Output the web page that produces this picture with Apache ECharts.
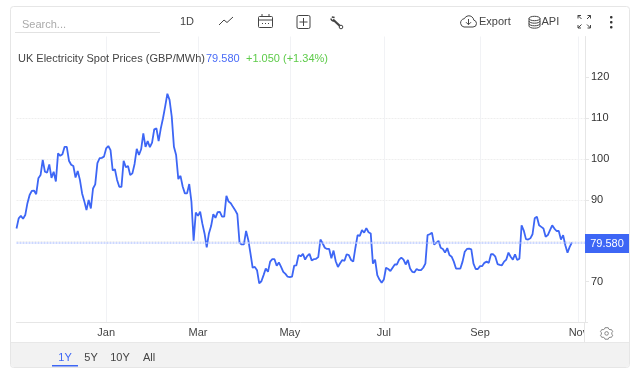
<!DOCTYPE html>
<html>
<head>
<meta charset="utf-8">
<style>
  html, body { margin: 0; padding: 0; background: #fff; }
  #main { width: 640px; height: 377px; }
</style>
<script src="https://cdn.jsdelivr.net/npm/echarts@6/dist/echarts.min.js"></script>
</head>
<body>
<div id="main"></div>
<script>
// one value per trading day
var prices = [
  83.0,85.5,86.1,85.4,86.3,89.2,91.2,92.2,92.3,91.4,
  95.3,96.1,99.8,96.9,96.7,98.7,95.4,96.9,94.5,101.4,
  100.8,101.2,103.0,103.0,99.6,98.6,98.3,95.5,97.1,94.9,
  91.6,89.7,87.5,90.0,87.9,92.8,93.8,99.0,100.2,100.3,
  100.6,102.6,103.2,102.2,97.2,97.5,94.9,93.2,93.2,99.6,
  98.0,98.3,96.1,96.5,98.8,102.5,101.0,102.4,106.3,103.0,
  104.4,102.9,104.0,107.3,107.5,104.4,107.5,110.0,112.9,116.0,
  114.5,110.4,103.0,101.0,95.1,95.9,93.3,91.6,91.6,93.9,
  89.6,80.0,86.9,86.1,87.1,84.2,81.8,78.4,81.8,83.6,
  86.5,85.6,87.0,87.1,85.9,85.9,91.0,89.6,89.2,88.3,
  87.5,86.5,79.5,79.1,79.1,82.4,80.2,76.9,73.4,73.6,
  72.8,69.6,70.1,71.6,73.2,72.4,74.9,75.5,75.5,73.9,
  74.7,73.6,72.4,71.9,71.2,71.1,71.2,73.9,74.0,76.5,
  76.2,76.8,75.4,76.3,76.8,75.2,75.5,75.6,76.0,80.3,
  79.4,78.3,78.0,78.0,75.7,77.6,75.0,73.6,74.5,75.3,
  75.1,76.7,76.5,75.3,74.9,78.3,81.4,81.2,82.6,82.0,
  83.1,82.1,81.8,74.4,75.4,71.6,70.5,69.7,70.5,73.4,
  73.1,72.6,73.4,74.2,74.2,75.4,75.9,75.4,74.2,75.3,
  73.2,72.4,72.3,73.1,72.8,72.8,73.4,74.4,81.4,81.6,
  82.0,79.1,79.5,80.0,78.3,78.0,77.1,78.2,76.5,76.1,
  74.9,73.2,73.2,73.2,74.9,77.3,78.0,78.1,77.9,74.4,
  73.1,73.1,73.8,73.8,74.6,74.9,74.6,76.7,76.7,76.1,
  74.3,74.1,74.0,74.9,75.4,77.1,76.1,75.4,76.7,75.3,
  75.6,83.8,82.5,80.4,80.3,80.6,81.6,85.5,85.9,83.8,
  83.4,83.0,81.0,81.4,82.6,83.8,83.0,82.4,82.4,80.3,
  81.4,78.9,77.1,78.5,79.58
]
var monthNames = ['Jan', 'Mar', 'May', 'Jul', 'Sep', 'Nov']
var monthSlots = [41, 83, 125, 168, 212, 257]
var yTicks = [70, 80, 90, 100, 110, 120]
var ranges = ['1Y', '5Y', '10Y', 'All']
var lastPrice = 79.58

var slotCount = 261
var categories = []
for (var i = 0; i < slotCount; i++) {
  var m = monthSlots.indexOf(i)
  categories.push(m >= 0 ? monthNames[m] : '')
}

var FONT = '"Liberation Sans", Arial, sans-serif'
var BLUE = '#3d66f5'
var INK = '#444'

function label(text, x, y, size, color, align) {
  return { type: 'text', z: 50, silent: true, x: x, y: y, style: {
    text: text, fontFamily: FONT, fontSize: size, fill: color,
    align: align || 'left', verticalAlign: 'middle'
  } }
}
function box(x, y, w, h, fill, z, r) {
  return { type: 'rect', z: z, silent: true, shape: { x: x, y: y, width: w, height: h, r: r || 0 },
    style: { fill: fill, stroke: null } }
}
function line(points, color, width) {
  return { type: 'polyline', z: 50, silent: true, shape: { points: points },
    style: { stroke: color, lineWidth: width || 1, fill: null } }
}
// the graphic component has no plain path type, so each icon becomes a registered shape
var iconCount = 0
function icon(d, color, width, fill) {
  var name = 'toolIcon' + (iconCount++)
  echarts.graphic.registerShape(name, echarts.graphic.extendPath(d, {}))
  return { type: name, z: 50, silent: true,
    style: { stroke: color, lineWidth: width || 1, fill: fill || 'none' } }
}

var furniture = [
  // card and footer
  { type: 'rect', z: -5, silent: true, shape: { x: 10.5, y: 6.5, width: 619, height: 361, r: 3 },
    style: { fill: '#fff', stroke: '#e6e6e6', lineWidth: 1 } },
  { type: 'rect', z: 40, silent: true, shape: { x: 11, y: 342, width: 618, height: 25, r: [0, 0, 3, 3] },
    style: { fill: '#f2f2f2' } },
  box(585, 323, 43, 19, '#fff', 40),
  line([[584.5, 322], [584.5, 342]], '#e6e6e6'),
  line([[584, 322.5], [588, 322.5]], '#e6e6e6'),
  line([[11, 342.5], [629, 342.5]], '#e8e8e8'),

  // toolbar
  label('Search...', 22, 24.5, 11, '#aaa'),
  line([[15, 32.5], [160, 32.5]], '#e2e2e2'),
  label('1D', 180, 22, 11, INK),
  line([[219, 25], [224, 20], [227, 22.5], [233, 17]], INK, 1),
  icon('M259.5 16.5h12a1 1 0 0 1 1 1v9a1 1 0 0 1-1 1h-12a1 1 0 0 1-1-1v-9a1 1 0 0 1 1-1zM258.5 20h14M262 14v2.5M269 14v2.5M262 23.5h1M265 23.5h1M268 23.5h1', INK),
  icon('M298.5 15.5h10a1.5 1.5 0 0 1 1.5 1.5v10a1.5 1.5 0 0 1-1.5 1.5h-10a1.5 1.5 0 0 1-1.5-1.5v-10a1.5 1.5 0 0 1 1.5-1.5zM303.5 18v8M299.5 22h8', INK),
  line([[333, 19.5], [341, 27]], INK, 2.2),
  icon('M331 18.5a2.6 2.6 0 0 0 3.5 2.4M331.8 17l2.8 .6', INK, 1.5),
  { type: 'circle', z: 50, silent: true, shape: { cx: 341, cy: 27, r: 1.8 }, style: { fill: '#fff', stroke: INK, lineWidth: 1 } },

  icon('M464 27h9a3.5 3.5 0 0 0 .8-6.9a5 5 0 0 0-9.5-1.4a4.2 4.2 0 0 0-.3 8.3zM468.5 19v5.5M466 22.2l2.5 2.5l2.5-2.5', INK),
  label('Export', 479, 22, 11, INK),
  icon('M529 18.5a5.5 2.2 0 0 1 11 0v7.5a5.5 2.2 0 0 1-11 0zM529 18.5a5.5 2.2 0 0 0 11 0M529 21a5.5 2.2 0 0 0 11 0M529 23.6a5.5 2.2 0 0 0 11 0', INK),
  label('API', 541.5, 22, 11, INK),
  icon('M578 15.5l3.5 3.5M578 15.5h3M578 15.5v3M590.5 15.5l-3.5 3.5M590.5 15.5h-3M590.5 15.5v3M578 28l3.5-3.5M578 28h3M578 28v-3M590.5 28l-3.5-3.5M590.5 28h-3M590.5 28v-3', INK),
  box(610, 16, 2.5, 2.5, '#333', 50, 1),
  box(610, 21, 2.5, 2.5, '#333', 50, 1),
  box(610, 26, 2.5, 2.5, '#333', 50, 1),

  // title row
  label('UK Electricity Spot Prices (GBP/MWh)', 18, 59, 11, INK),
  label(lastPrice.toFixed(3), 206, 59, 11, '#4a6cf7'),
  label('+1.050 (+1.34%)', 246, 59, 11, '#5ecb4a'),

  // gear
  icon('M605 327.7h3.2l.5 1.3l1.3 .7l1.4-.2l1.3 2.2l-.9 1v1.5l.9 1l-1.3 2.2l-1.4-.2l-1.3 .7l-.5 1.3h-3.2l-.5-1.3l-1.3-.7l-1.4 .2l-1.3-2.2l.9-1v-1.5l-.9-1l1.3-2.2l1.4 .2l1.3-.7z', '#888'),
  { type: 'circle', z: 50, silent: true, shape: { cx: 606.6, cy: 333.4, r: 1.8 }, style: { fill: 'none', stroke: '#888', lineWidth: 1 } },

  // footer range buttons
  box(52, 365, 26, 1.5, BLUE, 50)
]
var rangeX = [65, 91, 120, 149]
for (var r = 0; r < ranges.length; r++) {
  furniture.push(label(ranges[r], rangeX[r], 358, 11, r === 0 ? BLUE : INK, 'center'))
}

var myChart = echarts.init(document.getElementById('main'), null, { renderer: 'canvas' })
myChart.setOption({
  animation: false,
  backgroundColor: '#fff',
  textStyle: { fontFamily: FONT },
  grid: { left: 16.5, right: 55, top: 36.5, bottom: 54.5, containLabel: false },
  xAxis: {
    type: 'category',
    data: categories,
    boundaryGap: false,
    axisLine: { show: true, lineStyle: { color: '#e6e6e6', width: 1 } },
    axisTick: { show: false },
    axisLabel: {
      interval: function (index, value) { return value !== '' },
      color: '#444', fontSize: 11, margin: 5, hideOverlap: false
    },
    splitLine: {
      show: true,
      interval: function (index) { return monthSlots.indexOf(index) >= 0 },
      lineStyle: { color: '#f1f2f5', width: 1 }
    }
  },
  yAxis: {
    type: 'value',
    position: 'right',
    min: 60,
    max: 130,
    interval: 10,
    axisLine: { show: true, lineStyle: { color: '#e6e6e6', width: 1 } },
    axisTick: { show: true, length: 4, lineStyle: { color: '#e6e6e6' }, customValues: yTicks },
    axisLabel: { color: '#333', fontSize: 11, margin: 6, customValues: yTicks },
    splitLine: { show: true, showMinLine: false, showMaxLine: false, lineStyle: { color: '#eeeeee', width: 1, type: [2, 1] } }
  },
  series: [{
    type: 'line',
    data: prices,
    symbol: 'none',
    smooth: false,
    lineStyle: { color: BLUE, width: 1.8 },
    markLine: {
      silent: true,
      symbol: 'none',
      animation: false,
      data: [{ yAxis: lastPrice }],
      lineStyle: { color: '#bccbff', width: 1.5, type: [2, 1] },
      label: {
        show: true,
        position: 'end',
        distance: 0,
        align: 'left',
        offset: [0, 1],
        formatter: function () { return '{tag|' + lastPrice.toFixed(3) + '}' },
        rich: {
          tag: {
            color: '#fff',
            fontSize: 11,
            fontFamily: FONT,
            backgroundColor: BLUE,
            width: 44,
            height: 19,
            lineHeight: 19,
            align: 'center'
          }
        }
      }
    }
  }],
  graphic: furniture
})
</script>
</body>
</html>
